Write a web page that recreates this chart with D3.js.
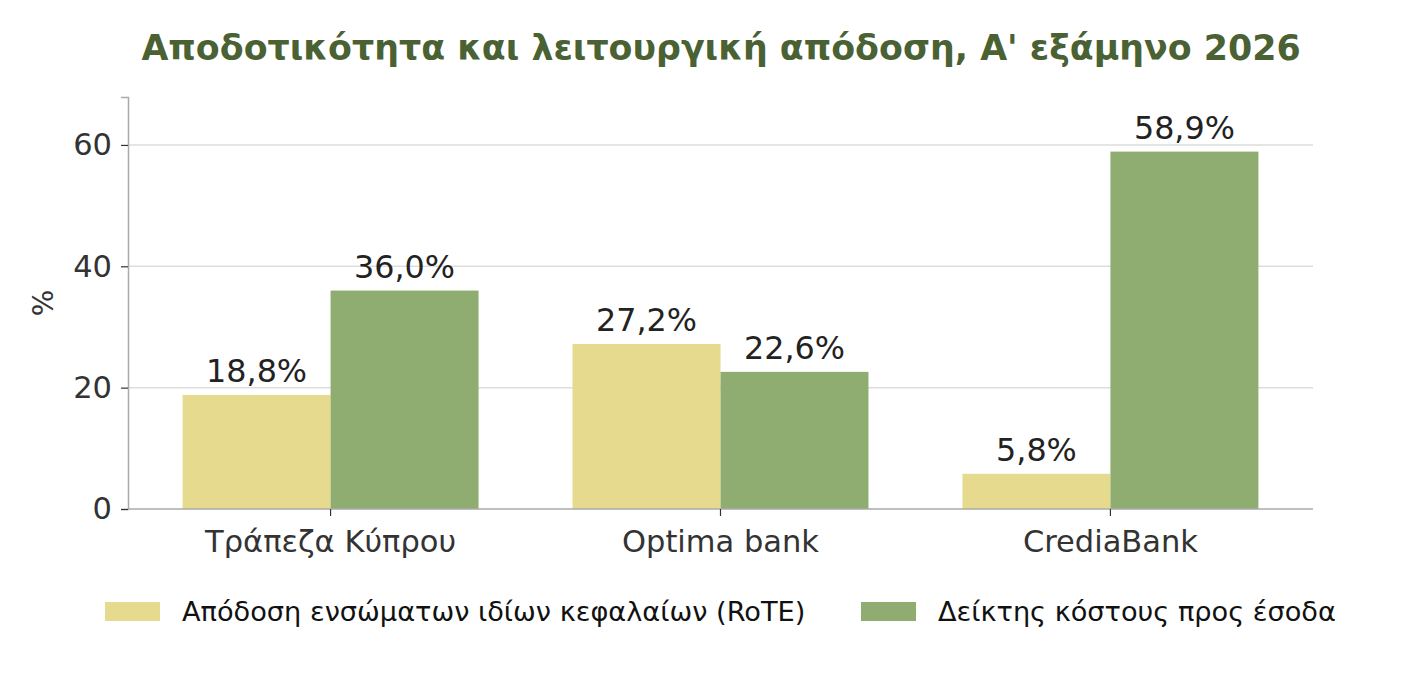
<!DOCTYPE html>
<html>
<head>
<meta charset="utf-8">
<script src="https://cdn.jsdelivr.net/npm/d3@7"></script>
<style>
  body { margin: 0; background: #fff; }
  text { font-family: "DejaVu Sans", sans-serif; }
</style>
</head>
<body>
<script>
const banks = ["Τράπεζα Κύπρου", "Optima bank", "CrediaBank"];
const seriesNames = ["Απόδοση ενσώματων ιδίων κεφαλαίων (RoTE)", "Δείκτης κόστους προς έσοδα"];
const rote = [18.8, 27.2, 5.8];
const costIncome = [36.0, 22.6, 58.9];
const yTicks = [0, 20, 40, 60];
const colors = ["#e5da8d", "#8fad70"];

const w = 1420, h = 687;
const margin = {top: 97, right: 107, bottom: 178, left: 128};

const svg = d3.select("body").append("svg")
    .attr("width", w)
    .attr("height", h);

const x = d3.scaleBand()
    .domain(banks)
    .range([margin.left, w - margin.right])
    .paddingInner(0.241)
    .paddingOuter(0.14);

const xs = d3.scaleBand()
    .domain([0, 1])
    .range([0, x.bandwidth()]);

const y = d3.scaleLinear()
    .domain([0, 67.9])
    .range([h - margin.bottom, margin.top]);

// grid
svg.append("g")
    .selectAll("line")
    .data(yTicks.filter(d => d > 0))
    .enter().append("line")
    .attr("x1", margin.left)
    .attr("x2", w - margin.right)
    .attr("y1", d => y(d))
    .attr("y2", d => y(d))
    .attr("stroke", "#dddddd")
    .attr("stroke-width", 1.5);

// bars
const rows = banks.map((b, i) => ({bank: b, vals: [rote[i], costIncome[i]]}));
const grp = svg.append("g").selectAll("g")
    .data(rows)
    .enter().append("g")
    .attr("transform", d => `translate(${x(d.bank)},0)`);

grp.selectAll("rect")
    .data(d => d.vals.map((v, k) => ({k, v})))
    .enter().append("rect")
    .attr("x", d => xs(d.k))
    .attr("width", xs.bandwidth())
    .attr("y", d => y(d.v))
    .attr("height", d => y(0) - y(d.v))
    .attr("fill", d => colors[d.k]);

grp.selectAll("text")
    .data(d => d.vals.map((v, k) => ({k, v})))
    .enter().append("text")
    .attr("x", d => xs(d.k) + xs.bandwidth() / 2)
    .attr("y", d => y(d.v) - 13)
    .attr("text-anchor", "middle")
    .attr("font-size", 31.8)
    .attr("fill", "#222")
    .text(d => d.v.toFixed(1).replace(".", ",") + "%");

// axes
const xAxis = g => g
    .attr("transform", `translate(0,${h - margin.bottom})`)
    .call(d3.axisBottom(x).tickSizeOuter(0).tickSize(7).tickPadding(14))
    .call(g => g.select(".domain").attr("stroke", "#aaaaaa").attr("stroke-width", 1.5)
        .attr("d", `M${margin.left},0H${w - margin.right}`))
    .call(g => g.selectAll(".tick line").attr("stroke", "#333").attr("stroke-width", 1.2))
    .call(g => g.selectAll(".tick text").attr("font-size", 30.5).attr("fill", "#333")
        .attr("font-family", "DejaVu Sans"));

const yAxis = g => g
    .attr("transform", `translate(${margin.left},0)`)
    .call(d3.axisLeft(y).tickValues(yTicks).tickSizeOuter(0).tickSize(7).tickPadding(9))
    .call(g => g.select(".domain").attr("stroke", "#aaaaaa").attr("stroke-width", 1.5))
    .call(g => g.selectAll(".tick line").attr("stroke", "#333").attr("stroke-width", 1.2))
    .call(g => g.selectAll(".tick text").attr("font-size", 30.5).attr("fill", "#333")
        .attr("font-family", "DejaVu Sans"));

svg.append("g").call(yAxis);
svg.append("g").call(xAxis);

svg.append("text")
    .attr("transform", `translate(53,${(y(0) + y(67.9)) / 2}) rotate(-90)`)
    .attr("text-anchor", "middle")
    .attr("font-size", 28)
    .attr("fill", "#333")
    .text("%");

// title
svg.append("text")
    .attr("x", 721)
    .attr("y", 60)
    .attr("text-anchor", "middle")
    .attr("font-size", 34.8)
    .attr("font-weight", "bold")
    .attr("fill", "#4a6134")
    .text("Αποδοτικότητα και λειτουργική απόδοση, Α' εξάμηνο 2026");

// legend
const legX = [105, 861];
const leg = svg.append("g").selectAll("g")
    .data(seriesNames)
    .enter().append("g")
    .attr("transform", (d, i) => `translate(${legX[i]},602)`);
leg.append("rect")
    .attr("width", 55)
    .attr("height", 19)
    .attr("fill", (d, i) => colors[i]);
leg.append("text")
    .attr("x", 77)
    .attr("y", 19)
    .attr("font-size", 27.2)
    .attr("fill", "#111")
    .text(d => d);
</script>
</body>
</html>
